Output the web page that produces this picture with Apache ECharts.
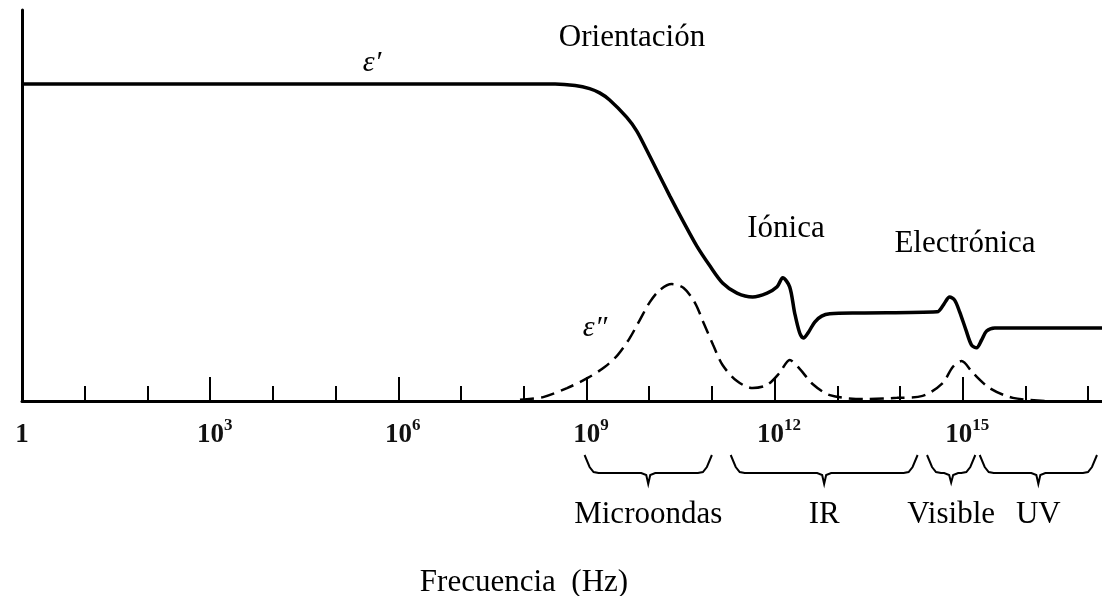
<!DOCTYPE html>
<html>
<head>
<meta charset="utf-8">
<script src="https://cdn.jsdelivr.net/npm/echarts@6/dist/echarts.min.js"></script>
<style>
  html, body { margin: 0; padding: 0; background: #fff; }
  #main { width: 1102px; height: 596px; }
</style>
</head>
<body>
<div id="main"></div>
<script>
// log10(frecuencia / Hz) y permitividad en escala relativa (0-10)
const realLogF = [0, 8.26, 8.50, 8.82, 9.05, 9.21, 9.37, 9.64, 9.80, 9.96, 10.12, 10.33, 10.54, 10.76, 10.97, 11.17,
  11.40, 11.65, 11.88, 12.04, 12.13, 12.24, 12.32, 12.40, 12.46, 12.54, 12.64, 12.75, 12.88, 13.36, 14.59,
  14.70, 14.79, 14.87, 14.95, 15.05, 15.14, 15.22, 15.30, 15.38, 15.51, 17.22];
const realEps = [8.11, 8.11, 8.11, 8.07, 7.99, 7.88, 7.70, 7.26, 6.91, 6.42, 5.91, 5.24, 4.60, 3.96, 3.45, 3.02,
  2.76, 2.66, 2.76, 2.92, 3.15, 2.92, 2.25, 1.74, 1.61, 1.76, 2.02, 2.17, 2.23, 2.25, 2.28,
  2.48, 2.66, 2.58, 2.28, 1.82, 1.43, 1.36, 1.56, 1.79, 1.87, 1.87];

const imagLogF = [7.94, 8.31, 8.69, 9.02, 9.29, 9.50, 9.69, 9.85, 10.01, 10.17, 10.36, 10.55, 10.73, 10.87,
  11.02, 11.17, 11.40, 11.65, 11.88, 12.08, 12.24, 12.40, 12.61, 12.88, 13.41, 13.95, 14.36, 14.68, 14.84,
  14.98, 15.16, 15.43, 15.80, 16.34];
const imagEps = [0.03, 0.10, 0.33, 0.59, 0.87, 1.18, 1.61, 2.07, 2.53, 2.84, 2.99, 2.89, 2.51, 1.99,
  1.43, 0.92, 0.51, 0.33, 0.41, 0.72, 1.05, 0.82, 0.43, 0.15, 0.05, 0.08, 0.13, 0.46, 0.87,
  1.02, 0.72, 0.33, 0.08, 0.00];

const minorTicks = [1, 2, 3, 4, 5, 6, 7, 8, 9, 10, 11, 12, 13, 14, 15, 16, 17];
const majorTicks = [0, 3, 6, 9, 12, 15];

// bandas del espectro (log10 f)
const bandNames = ['Microondas', 'IR', 'Visible', 'UV'];
const bandFrom = [8.97, 11.3, 14.43, 15.27];
const bandTo = [11.0, 14.28, 15.2, 17.14];

const serif = '"Liberation Serif", "Times New Roman", serif';

var chartDom = document.getElementById('main');
var myChart = echarts.init(chartDom);
var option;

option = {
  animation: false,
  grid: { left: 22, right: 0, top: 10, bottom: 195, outerBoundsMode: 'none' },
  xAxis: [
    {
      type: 'value', min: 0, max: 17.22, position: 'bottom',
      axisLine: { show: true, lineStyle: { color: '#000', width: 3 } },
      axisTick: { show: true, inside: true, length: 15, customValues: minorTicks, lineStyle: { color: '#000', width: 2 } },
      axisLabel: { show: false },
      splitLine: { show: false }
    },
    {
      type: 'value', min: 0, max: 17.22, position: 'bottom',
      axisLine: { show: false },
      axisTick: { show: true, inside: true, length: 24, customValues: majorTicks, lineStyle: { color: '#000', width: 2 } },
      axisLabel: {
        show: true,
        customValues: majorTicks,
        margin: 16,
        formatter: function (v) {
          if (v === 0) return '{b|1}';
          var e = String(v);
          return '{p|}{b|10}{s|' + e + '}';
        },
        rich: {
          b: { fontFamily: serif, fontWeight: 'bold', fontSize: 27, lineHeight: 36, color: '#111' },
          s: { fontFamily: serif, fontWeight: 'bold', fontSize: 17, lineHeight: 14, verticalAlign: 'top', color: '#111' },
          p: { width: 9 }
        }
      },
      splitLine: { show: false }
    }
  ],
  yAxis: {
    type: 'value', min: 0, max: 10,
    axisLine: { show: true, lineStyle: { color: '#000', width: 3 } },
    axisTick: { show: false },
    axisLabel: { show: false },
    splitLine: { show: false }
  },
  series: [
    {
      name: "ε'",
      type: 'line',
      data: realLogF.map((x, i) => [x, realEps[i]]),
      showSymbol: false,
      smooth: 0.3,
      lineStyle: { color: '#000', width: 3.5 }
    },
    {
      name: "ε''",
      type: 'line',
      data: imagLogF.map((x, i) => [x, imagEps[i]]),
      showSymbol: false,
      smooth: 0.3,
      lineStyle: { color: '#000', width: 2.5, type: [14, 7] }
    }
  ]
};

option && myChart.setOption(option);

// textos y llaves de las bandas
function txt(s, x, y, font) {
  return {
    type: 'text',
    style: { text: s, x: x, y: y, font: font, fill: '#000', align: 'center', verticalAlign: 'middle', textAlign: 'center', textVerticalAlign: 'middle' }
  };
}

const graphics = [
  txt('Orientación', 632, 38, '31px ' + serif),
  txt('Iónica', 786, 229, '31px ' + serif),
  txt('Electrónica', 965, 244, '31px ' + serif),
  txt('\u03b5\u2032', 372, 63, 'italic 30px ' + serif),
  txt('\u03b5\u2033', 595, 328, 'italic 30px ' + serif),
  txt('Frecuencia  (Hz)', 524, 583, '31px ' + serif)
];

bandNames.forEach(function (name, i) {
  const x0 = myChart.convertToPixel({ xAxisIndex: 0 }, bandFrom[i]);
  const x1 = myChart.convertToPixel({ xAxisIndex: 0 }, bandTo[i]);
  const xc = (x0 + x1) / 2;
  const T = 455, B = 473;
  const P = B + Math.min(11, (x1 - x0) / 5);
  const pts = [[x0, T], [x0 + 5, B - 6], [x0 + 9, B - 1], [x0 + 14, B], [xc - 7, B], [xc - 2, B + 2], [xc, P],
    [xc + 2, B + 2], [xc + 7, B], [x1 - 14, B], [x1 - 9, B - 1], [x1 - 5, B - 6], [x1, T]];
  graphics.push({
    type: 'polyline',
    shape: { points: pts },
    style: { stroke: '#000', lineWidth: 2, fill: null }
  });
  graphics.push(txt(name, xc, 515, '31px ' + serif));
});

myChart.setOption({ graphic: graphics });
</script>
</body>
</html>
